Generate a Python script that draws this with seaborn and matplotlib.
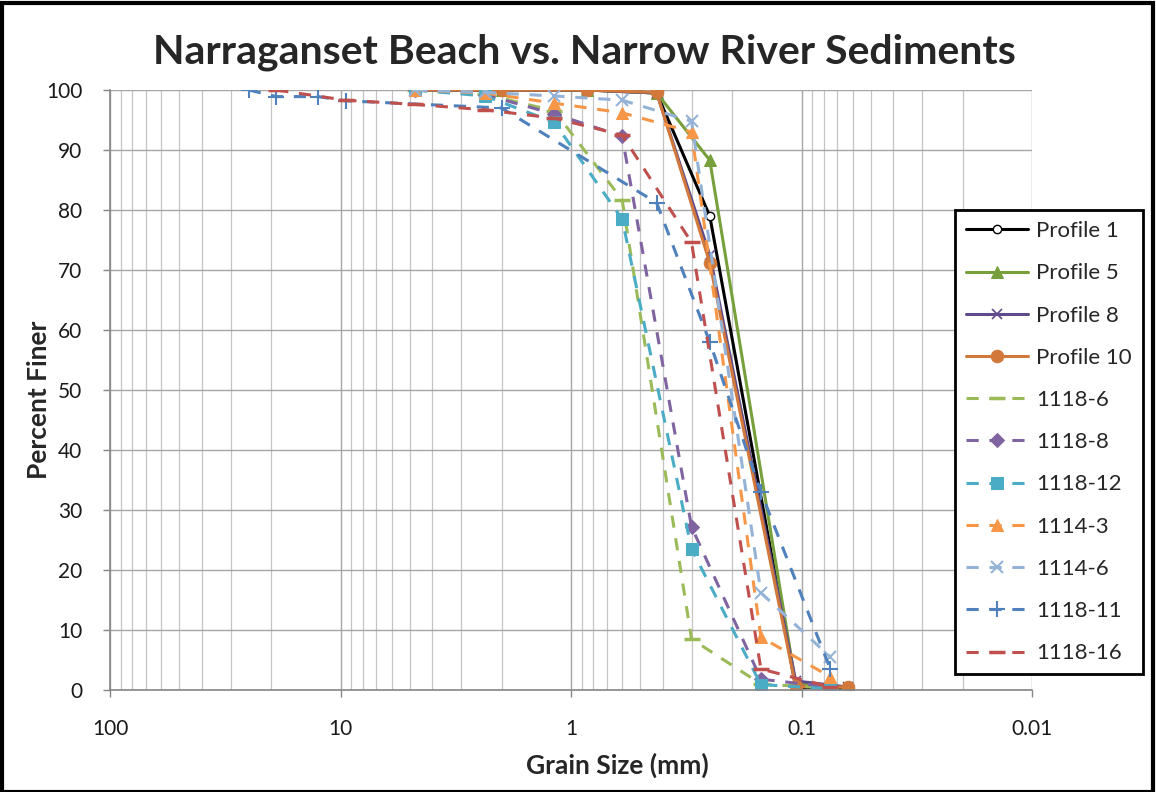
import matplotlib
matplotlib.use("Agg")
import matplotlib.pyplot as plt
from matplotlib.patches import Rectangle
from matplotlib.ticker import LogLocator, NullFormatter
import seaborn as sns

# Sieve openings (mm)
profile_sizes = [4.75, 2.0, 0.85, 0.425, 0.25, 0.106, 0.063]
core_sizes = [4.75, 2.36, 1.18, 0.6, 0.3, 0.15, 0.075]
sizes_1118_11 = [25.0, 19.0, 12.5, 9.5, 2.0, 0.425, 0.25, 0.15, 0.075]
sizes_1118_16 = [19.0, 9.5, 4.75, 2.36, 1.18, 0.6, 0.3, 0.15, 0.075]

# Percent finer for each sample
profile_1 = [100, 100, 100, 99.5, 79.0, 0.5, 0.2]
profile_5 = [100, 100, 100, 99.5, 88.3, 1.0, 0.4]
profile_8 = [100, 100, 100, 99.5, 72.5, 1.5, 0.5]
profile_10 = [100, 100, 100, 99.6, 71.2, 0.6, 0.5]
s1118_6 = [100, 99.3, 96.5, 81.7, 8.5, 1.0, 0.3]
s1118_8 = [100, 99.2, 96.0, 92.3, 27.2, 1.8, 0.5]
s1118_12 = [100, 99.0, 94.6, 78.5, 23.5, 0.9, 0.2]
s1114_3 = [100, 99.5, 97.8, 96.2, 93.0, 8.8, 2.2]
s1114_6 = [100, 99.6, 99.0, 98.3, 94.8, 16.2, 5.5]
s1118_11 = [100, 98.9, 98.9, 98.2, 97.0, 81.2, 58.0, 33.0, 3.5]
s1118_16 = [100, 98.3, 97.6, 96.7, 95.3, 92.5, 74.6, 3.5, 0.5]

labels = ["Profile 1", "Profile 5", "Profile 8", "Profile 10", "1118-6", "1118-8",
          "1118-12", "1114-3", "1114-6", "1118-11", "1118-16"]

dash = (0, (4, 3.5))
series = [
    (profile_sizes, profile_1, "#000000", "o", "-", dict(mfc="white", ms=6, mew=1.0)),
    (profile_sizes, profile_5, "#77A03C", "^", "-", dict(ms=8)),
    (profile_sizes, profile_8, "#5E4A8C", "x", "-", dict(ms=7, mew=1.2)),
    (profile_sizes, profile_10, "#D2783A", "o", "-", dict(ms=9)),
    (core_sizes, s1118_6, "#9BBB59", "_", dash, dict(ms=12, mew=2.5)),
    (core_sizes, s1118_8, "#8064A2", "D", dash, dict(ms=7)),
    (core_sizes, s1118_12, "#4BACC6", "s", dash, dict(ms=9)),
    (core_sizes, s1114_3, "#F79646", "^", dash, dict(ms=9)),
    (core_sizes, s1114_6, "#95B3D7", "x", dash, dict(ms=9, mew=1.5)),
    (sizes_1118_11, s1118_11, "#4F81BD", "+", dash, dict(ms=11, mew=1.5)),
    (sizes_1118_16, s1118_16, "#C0504D", "_", dash, dict(ms=12, mew=2.5)),
]

sns.set_theme(style="white")
plt.rcParams["font.family"] = ["Lato", "DejaVu Sans"]

W, H = 1156, 792
fig = plt.figure(figsize=(W / 100, H / 100), dpi=100)
ax = fig.add_axes([110 / W, 1 - 690 / H, (1032 - 110) / W, 600 / H])

for (xs, ys, color, marker, ls, mk), label in zip(series, labels):
    sns.lineplot(x=xs, y=ys, ax=ax, color=color, marker=marker, linestyle=ls,
                 linewidth=2.2, sort=False, estimator=None, label=label,
                 markeredgecolor=color, **mk)

ax.set_xscale("log")
ax.set_xlim(100, 0.01)
ax.set_ylim(0, 100)
ax.set_xticks([100, 10, 1, 0.1, 0.01])
ax.set_xticklabels(["100", "10", "1", "0.1", "0.01"])
ax.xaxis.set_minor_locator(LogLocator(base=10, subs=range(2, 10)))
ax.xaxis.set_minor_formatter(NullFormatter())
ax.set_yticks(range(0, 101, 10))

ax.grid(True, which="major", color="#a6a6a6", linewidth=1.0)
ax.grid(True, which="minor", axis="x", color="#c4c4c4", linewidth=0.9)
ax.set_axisbelow(True)
for side in ("top", "right"):
    ax.spines[side].set_visible(False)
for side in ("left", "bottom"):
    ax.spines[side].set_color("#868686")
    ax.spines[side].set_linewidth(1.2)
ax.tick_params(axis="both", which="major", labelsize=15, colors="#868686",
               labelcolor="#1a1a1a", length=5, width=1, direction="out")
ax.tick_params(axis="x", which="major", pad=16)
ax.tick_params(axis="x", which="minor", length=0)
ax.tick_params(axis="y", pad=15)
ax.tick_params(left=True, bottom=True)

fig.text(617 / W, 1 - 765 / H, "Grain Size (mm)", ha="center", va="center",
         fontsize=19, fontweight="bold")
fig.text(39 / W, 1 - 400 / H, "Percent Finer", ha="center", va="center",
         rotation=90, fontsize=19, fontweight="bold")
fig.text(584 / W, 1 - 52 / H, "Narraganset Beach vs. Narrow River Sediments",
         ha="center", va="center", fontsize=29.5, fontweight="bold")

leg = ax.legend(loc="upper left", bbox_to_anchor=(955 / W, 1 - 210 / H),
                bbox_transform=fig.transFigure, fontsize=16, frameon=True,
                fancybox=False, edgecolor="black", handlelength=2.8,
                labelspacing=1.0, borderpad=0.5, handletextpad=0.35,
                borderaxespad=0)
leg.get_frame().set_linewidth(2.0)
leg.get_frame().set_facecolor("white")
leg.get_frame().set_alpha(1.0)

fig.patches.append(Rectangle((0.002, 0.0), 0.995, 0.996, transform=fig.transFigure,
                             fill=False, edgecolor="black", linewidth=3))

fig.savefig("out.png", dpi=100, facecolor="white")
